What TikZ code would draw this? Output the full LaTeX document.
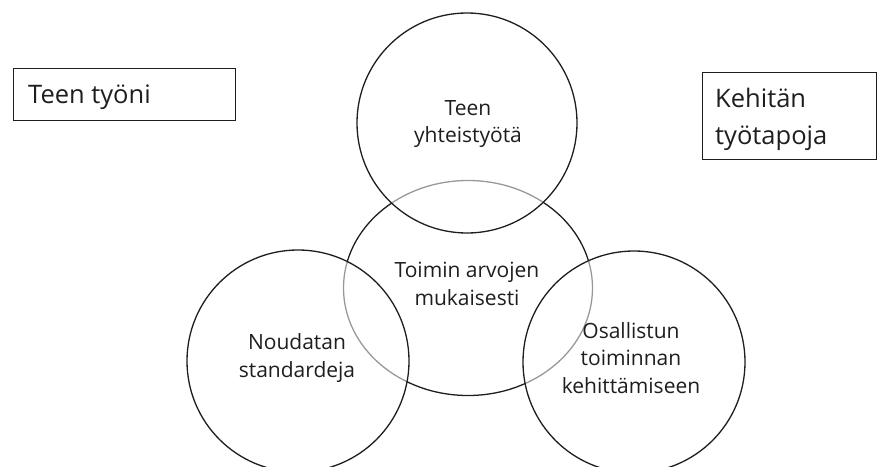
\documentclass[tikz,border=0pt]{standalone}
\usepackage{fontspec}
\setmainfont{Open Sans}
\usetikzlibrary{shapes.geometric}
\definecolor{ink}{HTML}{1E1E1E}
\tikzset{
  ring/.style={circle, draw=ink, line width=1.3pt, minimum size=#1, inner sep=0pt},
  overring/.style={ring=#1, fill=white, fill opacity=0.55, draw opacity=1},
  midring/.style={ellipse, draw=ink, line width=1.3pt, minimum width=249pt, minimum height=215pt, inner sep=0pt},
  labelbox/.style={draw=ink, line width=1.2pt, anchor=north west, inner sep=0pt},
  ringtext/.style={text=ink, align=center, inner sep=0pt, font=\fontsize{21}{27.5}\selectfont},
  boxtext/.style={text=ink, anchor=base west, inner sep=0pt, font=\fontsize{25.5}{30}\selectfont}
}
\begin{document}
\begin{tikzpicture}[x=1pt,y=-1pt]
  \useasboundingbox (0,0) rectangle (878,466);
  % central ellipse first, the three circles veil it where they overlap
  \node[midring] (mid) at (468,288) {};
  \node[overring=220pt] (top) at (467,123) {};
  \node[overring=222pt] (left) at (298,361) {};
  \node[overring=222pt] (right) at (634,362) {};
  % texts inside the circles
  \node[ringtext] (topText) at (468,124) {Teen\\yhteistyötä};
  \node[ringtext] (midText) at (467,284) {Toimin arvojen\\mukaisesti};
  \node[ringtext] (leftText) at (297,358) {Noudatan\\standardeja};
  \node[ringtext] (rightText) at (631,358) {Osallistun\\toiminnan\\kehittämiseen};
  % side boxes
  \node[labelbox, minimum width=222pt, minimum height=52pt] (workBox) at (13,68) {};
  \node[boxtext] (workText) at (28,103) {Teen työni};
  \node[labelbox, minimum width=174pt, minimum height=87pt] (devBox) at (702,72) {};
  \node[boxtext] (devText1) at (715,107) {Kehitän};
  \node[boxtext] (devText2) at (715,144) {työtapoja};
\end{tikzpicture}
\end{document}
